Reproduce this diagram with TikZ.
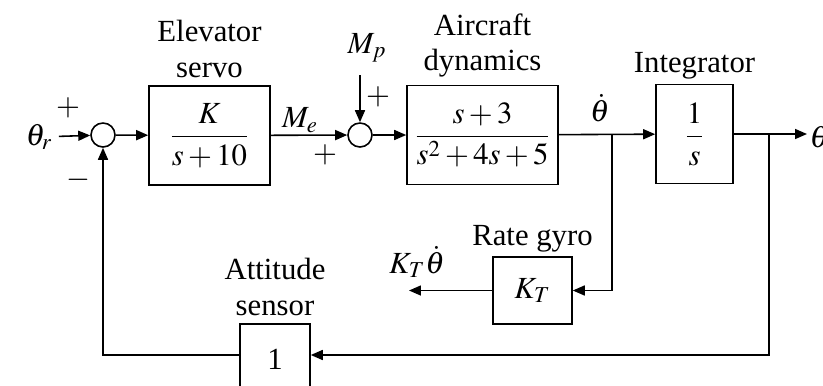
\documentclass[tikz,border=0pt]{standalone}
\usepackage{amsmath}
\usepackage{mathptmx}
\usepackage{fontspec}
\setmainfont{Liberation Serif}
\usetikzlibrary{arrows.meta,positioning}

\begin{document}
\begin{tikzpicture}[x=0.02cm,y=-0.02cm,
  font=\fontsize{17.5}{20}\selectfont,
  line width=0.9pt,
  >={Triangle[length=0.24cm,width=0.2cm]},
  block/.style={draw,minimum width=#1,minimum height=1.98cm,inner sep=0pt},
  sumcirc/.style={draw,circle,minimum size=0.48cm,inner sep=0pt},
  caption/.style={align=center,inner sep=1pt}]
 \useasboundingbox (0,0) rectangle (823,386);
 \clip (0,0) rectangle (823,386);

 % forward path
 \node (ref) at (39,137) {$\theta_r$};
 \node[sumcirc] (sa) at (103,135) {};
 \node[block=2.42cm] (servo) at (209.5,135.5) {$\dfrac{K}{s+10}$};
 \node[sumcirc] (sb) at (360,135) {};
 \node[block=3.02cm] (plant) at (482.5,135) {$\dfrac{s+3}{s^2+4s+5}$};
 \node[block=1.54cm] (integ) at (694.5,134) {$\dfrac{1}{s}$};
 \node[anchor=west,inner sep=1pt] (out) at (807,137) {$\theta$};

 \coordinate (ba) at (612,135);
 \coordinate (bb) at (769,135);
 \coordinate (mp) at (360,75);

 \draw[->] (ref) -- (sa);
 \draw[->] (sa) -- (servo);
 \draw[->] (servo) -- (sb);
 \draw[->] (mp) -- (sb);
 \draw[->] (sb) -- (plant);
 \draw[->] (plant) -- (integ);
 \draw[->] (integ) -- (integ -| out.west);

 % feedback blocks
 \node[block=1.58cm,minimum height=1.34cm] (gyro) at (532.5,290.5) {$K_T$};
 \node[block=1.4cm,minimum height=1.4cm] (sensor) at (275,359) {1};
 \coordinate (gyroout) at (409,290.5);
 \coordinate (fb) at (769,355);

 \draw[->] (ba) |- (gyro);
 \draw[->] (gyro) -- (gyroout);
 \draw[->] (bb) -- (fb) -- (sensor.east |- fb);
 \draw[->] (sensor.west |- fb) -| (sa);

 % captions
 \node[caption,above=3pt of servo] (servocap) {Elevator\\servo};
 \node[caption,above=3pt of plant] (plantcap) {Aircraft\\dynamics};
 \node[caption,above=1pt of integ] (integcap) {Integrator};
 \node[caption,above=1pt of gyro] (gyrocap) {Rate gyro};
 \node[caption,above=3pt of sensor] (sensorcap) {Attitude\\sensor};

 % signal labels and signs
 \node (melbl) at (300,120) {$M_e$};
 \node (mplbl) at (367,48) {$M_p$};
 \node (rate) at (600,108) {$\dot\theta$};
 \node (fbrate) at (417,262) {$K_T\dot\theta$};
 \node (plusa) at (68,108) {$+$};
 \node (minusa) at (78,180) {$-$};
 \node (plusb) at (325,155) {$+$};
 \node (plusc) at (378,97) {$+$};
\end{tikzpicture}
\end{document}
